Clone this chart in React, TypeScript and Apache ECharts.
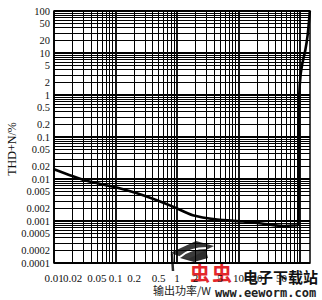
import { useEffect, useRef } from "react";
import * as echarts from "echarts";

// Output power (W) and THD+N (%) along the distortion curve
const powerW = [0.01, 0.03, 0.09, 0.28, 0.86, 1.8, 4.5, 11.8, 25, 53, 90, 93, 95, 96, 97, 102, 110, 122, 132, 140, 144];
const thdnPct = [0.017, 0.0095, 0.0066, 0.0041, 0.0022, 0.00137, 0.00108, 0.00097, 0.00086, 0.00076, 0.00079, 0.0008, 0.01, 0.1, 1, 3, 6, 12, 25, 60, 100];

// Tick labels printed along each axis
const xTickLabels = [0.01, 0.02, 0.05, 0.1, 0.2, 0.5, 1, 2, 5, 10, 20, 50];
const yTickLabels = [100, 50, 20, 10, 5, 2, 1, 0.5, 0.2, 0.1, 0.05, 0.02, 0.01, 0.005, 0.002, 0.001, 0.0005, 0.0002, 0.0001];

// Log-paper rulings: decades and the 1..9 steps inside each one
const xDecades = [0.01, 0.1, 1, 10];
const yDecades = [0.0001, 0.001, 0.01, 0.1, 1, 10];
const steps = [1, 2, 3, 4, 5, 6, 7, 8, 9];

const X_MIN = 0.01;
const X_MAX = 145;
const Y_MIN = 0.0001;
const Y_MAX = 100;

const serif = "Liberation Serif";

function rulings(decades: number[], top: number, key: "xAxis" | "yAxis") {
  const items: any[] = [];
  decades.forEach((d) => {
    steps.forEach((m) => {
      items.push({
        [key]: m * d,
        lineStyle: { color: "#000", width: m === 1 ? 1.8 : 1, type: "solid" },
        label: { show: false },
      });
    });
  });
  items.push({ [key]: top, lineStyle: { color: "#000", width: 1.8, type: "solid" }, label: { show: false } });
  return items;
}

function labelLines(values: number[], key: "xAxis" | "yAxis") {
  return values.map((v) => ({
    [key]: v,
    lineStyle: { color: "rgba(0,0,0,0)", width: 1, type: "solid" },
    label: {
      show: true,
      position: "start",
      distance: key === "yAxis" ? 4 : 9,
      formatter: String(v),
      fontFamily: serif,
      fontSize: key === "yAxis" ? 10.5 : 11,
      color: "#111",
    },
  }));
}

export default function App() {
  const ref = useRef<HTMLDivElement>(null);

  useEffect(() => {
    if (!ref.current) return;
    const chart = echarts.init(ref.current, undefined, { renderer: "svg" });

    const markData = [
      ...rulings(xDecades, 100, "xAxis"),
      ...rulings(yDecades, 100, "yAxis"),
      ...labelLines(xTickLabels, "xAxis"),
      ...labelLines(yTickLabels, "yAxis"),
    ];

    chart.setOption({
      animation: false,
      backgroundColor: "#fff",
      textStyle: { fontFamily: serif },
      grid: {
        left: 54,
        right: 12,
        top: 11,
        bottom: 33,
        show: true,
        backgroundColor: "#fff",
        borderColor: "#000",
        borderWidth: 1.5,
      },
      xAxis: {
        type: "log",
        logBase: 10,
        min: X_MIN,
        max: X_MAX,
        axisLine: { show: false },
        axisTick: { show: false },
        axisLabel: { show: false },
        splitLine: { show: false },
        name: "输出功率/W",
        nameLocation: "middle",
        nameGap: 21,
        nameTextStyle: { fontFamily: "Noto Sans CJK SC", fontSize: 11, color: "#222" },
      },
      yAxis: {
        type: "log",
        logBase: 10,
        min: Y_MIN,
        max: Y_MAX,
        axisLine: { show: false },
        axisTick: { show: false },
        axisLabel: { show: false },
        splitLine: { show: false },
      },
      series: [
        {
          type: "line",
          z: 3,
          data: powerW.map((p, i) => [p, thdnPct[i]]),
          showSymbol: false,
          symbol: "none",
          smooth: 0.2,
          lineStyle: { color: "#000", width: 2.6 },
          markLine: {
            z: 1,
            silent: true,
            precision: 10,
            symbol: ["none", "none"],
            animation: false,
            data: markData,
          },
        },
      ],
      graphic: [
        {
          type: "text",
          x: 12,
          y: 149,
          rotation: Math.PI / 2,
          style: {
            text: "THD+N/%",
            fontFamily: serif,
            fontSize: 12,
            fill: "#111",
            align: "center",
            verticalAlign: "middle",
          },
        },
        // site stamp in the lower right corner
        {
          type: "group",
          z: 100,
          children: [
            {
              type: "polygon",
              shape: { points: [[180, 258], [186, 250], [206, 250], [208, 258], [194, 262]] },
              style: { fill: "#2e2e2e" },
            },
            {
              type: "polygon",
              shape: { points: [[170, 253], [196, 241], [214, 246], [188, 259]] },
              style: { fill: "#3a3a3a" },
            },
            {
              type: "bezierCurve",
              shape: { x1: 180, y1: 257, x2: 207, y2: 248, cpx1: 190, cpy1: 248 },
              style: { stroke: "#fff", lineWidth: 2, fill: "none" },
            },
            {
              type: "line",
              shape: { x1: 172, y1: 254, x2: 173, y2: 271 },
              style: { stroke: "#2e2e2e", lineWidth: 2.5 },
            },
            {
              type: "text",
              x: 200,
              y: 272,
              style: {
                text: "虫",
                fontFamily: "Noto Sans CJK SC",
                fontWeight: "bold",
                fontSize: 20,
                fill: "#e3262b",
                align: "center",
                verticalAlign: "middle",
              },
            },
            {
              type: "text",
              x: 222,
              y: 272,
              style: {
                text: "虫",
                fontFamily: "Noto Sans CJK SC",
                fontWeight: "bold",
                fontSize: 20,
                fill: "#e3262b",
                align: "center",
                verticalAlign: "middle",
              },
            },
            {
              type: "text",
              x: 243,
              y: 276,
              style: {
                text: "电子下载站",
                fontFamily: "Noto Sans CJK SC",
                fontWeight: "bold",
                fontSize: 15,
                fill: "#111",
                align: "left",
                verticalAlign: "middle",
              },
            },
            {
              type: "text",
              x: 215,
              y: 293,
              style: {
                text: "www.eeworm.com",
                fontFamily: "DejaVu Sans Mono",
                fontWeight: "bold",
                fontSize: 12,
                fill: "#222",
                align: "left",
                verticalAlign: "middle",
              },
            },
          ],
        },
      ],
    });

    return () => chart.dispose();
  }, []);

  return <div ref={ref} style={{ position: "fixed", left: 0, top: 0, width: 322, height: 300 }} />;
}
